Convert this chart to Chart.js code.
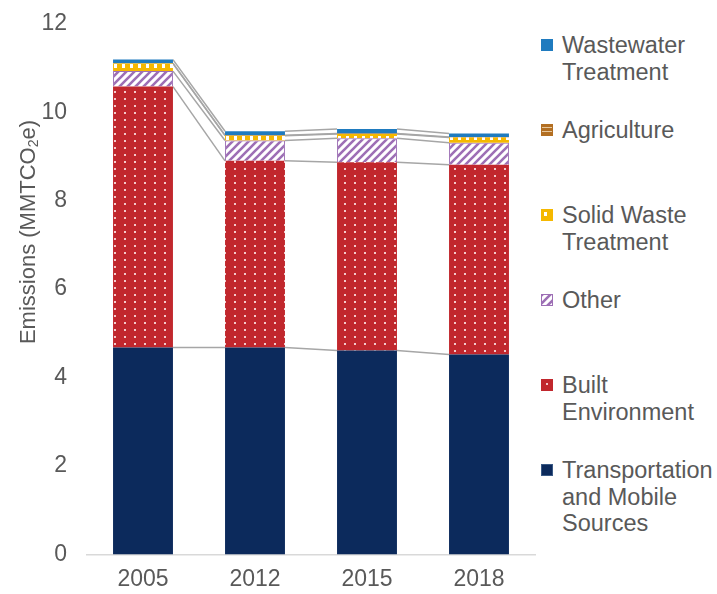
<!DOCTYPE html>
<html>
<head>
<meta charset="utf-8">
<script src="https://cdn.jsdelivr.net/npm/chart.js@4"></script>
<style>
  body { margin: 0; background: #fff; font-family: "Liberation Sans", Arial, sans-serif; }
  #wrap { position: relative; width: 717px; height: 594px; overflow: hidden; }
  #box { position: absolute; left: 0; top: -10px; width: 540px; height: 616px; }
  #legend { position: absolute; left: 541px; top: 32px; }
  .item { height: 85px; display: flex; align-items: flex-start; }
  .sw { width: 12px; height: 12px; margin-top: 7px; margin-right: 9px; flex: none; }
  .lbl { font-size: 23.5px; line-height: 26.5px; color: #595959; white-space: pre-line; }
</style>
</head>
<body>
<div id="wrap">
  <div id="box"><canvas id="chart"></canvas></div>
  <div id="legend"></div>
</div>
<script>
// Years on the x axis
const years = ["2005", "2012", "2015", "2018"];
const yTicks = [0, 2, 4, 6, 8, 10, 12];

// Emissions by sector (MMTCO2e), bottom of the stack first
const transportation = [4.68, 4.68, 4.61, 4.52];
const builtEnv = [5.90, 4.22, 4.26, 4.29];
const other = [0.35, 0.46, 0.54, 0.50];
const solidWaste = [0.17, 0.11, 0.10, 0.12];
const agriculture = [0.01, 0.01, 0.01, 0.01];
const wastewater = [0.08, 0.09, 0.10, 0.08];

const labels = [
  "Transportation\nand Mobile\nSources",
  "Built\nEnvironment",
  "Other",
  "Solid Waste\nTreatment",
  "Agriculture",
  "Wastewater\nTreatment"
];

// Small tiles for the Excel-like fill patterns
function makeTile(w, h, draw) {
  const c = document.createElement("canvas");
  c.width = w; c.height = h;
  draw(c.getContext("2d"), w, h);
  return c;
}

const tiles = [
  makeTile(8, 8, (g, w, h) => { g.fillStyle = "#0c2a5c"; g.fillRect(0, 0, w, h); }),
  makeTile(10, 7, (g, w, h) => {
    g.fillStyle = "#c1272d"; g.fillRect(0, 0, w, h);
    g.fillStyle = "#f3c9cb"; g.fillRect(4, 3, 2, 2);
  }),
  makeTile(8, 8, (g, w, h) => {
    g.fillStyle = "#ffffff"; g.fillRect(0, 0, w, h);
    g.strokeStyle = "#9d6fb5"; g.lineWidth = 2.6;
    g.beginPath();
    g.moveTo(-2, 10); g.lineTo(10, -2);
    g.moveTo(-2, 2); g.lineTo(2, -2);
    g.moveTo(6, 10); g.lineTo(10, 6);
    g.stroke();
  }),
  makeTile(8, 8, (g, w, h) => {
    g.fillStyle = "#f5b800"; g.fillRect(0, 0, w, h);
    g.fillStyle = "#ffffff"; g.fillRect(2, 2, 3, 4);
  }),
  makeTile(6, 4, (g, w, h) => {
    g.fillStyle = "#b36f22"; g.fillRect(0, 0, w, h);
    g.fillStyle = "#e9c89c"; g.fillRect(0, 2, w, 1);
  }),
  makeTile(8, 8, (g, w, h) => { g.fillStyle = "#1f7bbf"; g.fillRect(0, 0, w, h); })
];

const series = [transportation, builtEnv, other, solidWaste, agriculture, wastewater];
const borders = ["#3a5a86", "#c1272d", "#9d6fb5", "#f5b800", "#b36f22", "#1f7bbf"];

const ctx = document.getElementById("chart").getContext("2d");
const fills = tiles.map(t => ctx.createPattern(t, "repeat"));

// Grey connector lines between the stacks (Excel "series lines")
const seriesLines = {
  id: "seriesLines",
  beforeDatasetsDraw(chart) {
    const g = chart.ctx;
    g.save();
    g.strokeStyle = "#a6a6a6";
    g.lineWidth = 1.5;
    chart.data.datasets.forEach((ds, d) => {
      const bars = chart.getDatasetMeta(d).data;
      for (let i = 0; i < bars.length - 1; i++) {
        const a = bars[i], b = bars[i + 1];
        g.beginPath();
        g.moveTo(a.x + a.width / 2, a.y);
        g.lineTo(b.x - b.width / 2, b.y);
        g.stroke();
      }
    });
    g.restore();
  }
};

// Rotated y title with a subscript 2
const yTitle = {
  id: "yTitle",
  afterDraw(chart) {
    const g = chart.ctx;
    const big = "22px 'Liberation Sans', Arial, sans-serif";
    const small = "14px 'Liberation Sans', Arial, sans-serif";
    const parts = [["Emissions (MMTCO", big, 0], ["2", small, 5], ["e)", big, 0]];
    g.save();
    g.translate(29, 242);
    g.rotate(-Math.PI / 2);
    g.fillStyle = "#595959";
    g.textBaseline = "middle";
    let total = 0;
    parts.forEach(p => { g.font = p[1]; total += g.measureText(p[0]).width; });
    let x = -total / 2;
    parts.forEach(p => {
      g.font = p[1];
      g.fillText(p[0], x, p[2]);
      x += g.measureText(p[0]).width;
    });
    g.restore();
  }
};

new Chart(ctx, {
  type: "bar",
  data: {
    labels: years,
    datasets: series.map((vals, i) => ({
      label: labels[i],
      data: vals,
      backgroundColor: fills[i],
      borderColor: borders[i],
      borderWidth: i === 2 ? 1 : 0,
      categoryPercentage: 1,
      barPercentage: 0.535
    }))
  },
  options: {
    responsive: true,
    maintainAspectRatio: false,
    animation: false,
    layout: { padding: { top: 0, right: 5, bottom: 10 } },
    plugins: {
      legend: { display: false },
      tooltip: { enabled: false }
    },
    scales: {
      x: {
        stacked: true,
        grid: { display: false },
        border: { display: true, color: "#d9d9d9", width: 1.5 },
        ticks: { color: "#595959", font: { size: 23, family: "'Liberation Sans', Arial" }, padding: 3 }
      },
      y: {
        stacked: true,
        min: 0,
        max: 12,
        afterFit(scale) { scale.width = 87; },
        afterBuildTicks(scale) { scale.ticks = yTicks.map(v => ({ value: v })); },
        grid: { display: false, drawTicks: false },
        border: { display: false },
        ticks: { color: "#595959", font: { size: 23, family: "'Liberation Sans', Arial" }, padding: 20 }
      }
    }
  },
  plugins: [seriesLines, yTitle]
});

// Legend on the right, top entry first
const legendEl = document.getElementById("legend");
for (let i = labels.length - 1; i >= 0; i--) {
  const item = document.createElement("div");
  item.className = "item";
  const sw = document.createElement("div");
  sw.className = "sw";
  sw.style.background = "url(" + tiles[i].toDataURL() + ")";
  sw.style.border = "1px solid " + borders[i];
  sw.style.boxSizing = "border-box";
  const lbl = document.createElement("div");
  lbl.className = "lbl";
  lbl.textContent = labels[i];
  item.appendChild(sw);
  item.appendChild(lbl);
  legendEl.appendChild(item);
}
</script>
</body>
</html>
